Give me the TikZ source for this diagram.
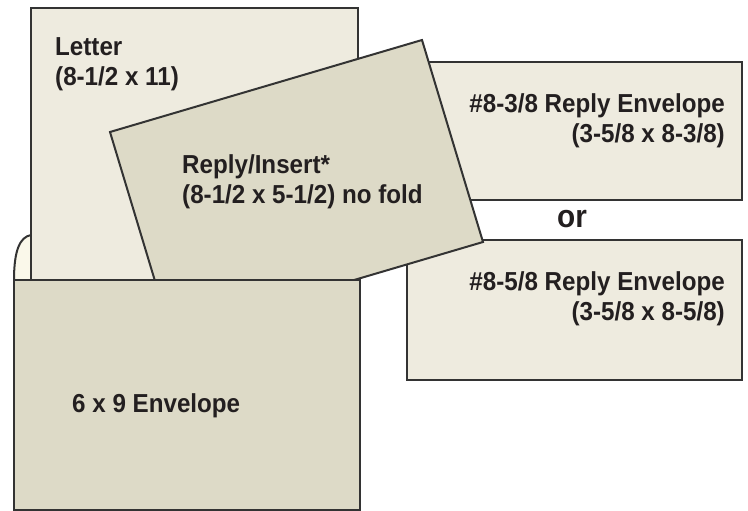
\documentclass[tikz,border=0pt]{standalone}
\usepackage{fontspec}
\setmainfont{Liberation Sans}[FakeStretch=0.93]
\definecolor{paper}{HTML}{EEEBDF}
\definecolor{kraft}{HTML}{DDDAC7}
\definecolor{flapc}{HTML}{FAF8EA}
\definecolor{edge}{HTML}{333333}
\definecolor{ink}{HTML}{231F20}
\tikzset{
  sheet/.style={draw=edge,line width=2bp,line join=miter},
  lbl/.style={font=\bfseries\fontsize{26bp}{30bp}\selectfont,text=ink,inner sep=0pt}
}
\begin{document}
\begin{tikzpicture}[x=1bp,y=-1bp]
  \useasboundingbox (0,0) rectangle (748,511);
  % reply envelopes on the right
  \draw[sheet,fill=paper] (407,62) rectangle (742,200);
  \draw[sheet,fill=paper] (407,240) rectangle (742,380);
  \node[lbl,align=right,anchor=north east] (envA) at (725,93) {\#8-3/8 Reply Envelope\\(3-5/8 x 8-3/8)};
  \node[lbl,align=right,anchor=north east] (envB) at (725,271) {\#8-5/8 Reply Envelope\\(3-5/8 x 8-5/8)};
  \node[lbl,font=\bfseries\fontsize{32bp}{32bp}\selectfont,anchor=base] (or) at (572,228) {or};
  % flap and letter
  \draw[sheet,fill=flapc] (14,280) .. controls (14,250) and (20,237) .. (31,235) -- (31,280);
  \draw[sheet,fill=paper] (31,280) -- (31,8) -- (358,8) -- (358,280);
  \node[lbl,align=left,anchor=north west] (letter) at (55,37) {Letter\\(8-1/2 x 11)};
  % reply card, turned
  \draw[sheet,fill=kraft] (110,132) -- (422,40) -- (483,242) -- (171,334) -- cycle;
  \node[lbl,align=left,anchor=north west] (card) at (182,154) {Reply/Insert*\\(8-1/2 x 5-1/2) no fold};
  % 6 x 9 envelope in front
  \draw[sheet,fill=kraft] (14,280) rectangle (360,510);
  \node[lbl,anchor=base west] (env) at (72,412) {6 x 9 Envelope};
\end{tikzpicture}
\end{document}
